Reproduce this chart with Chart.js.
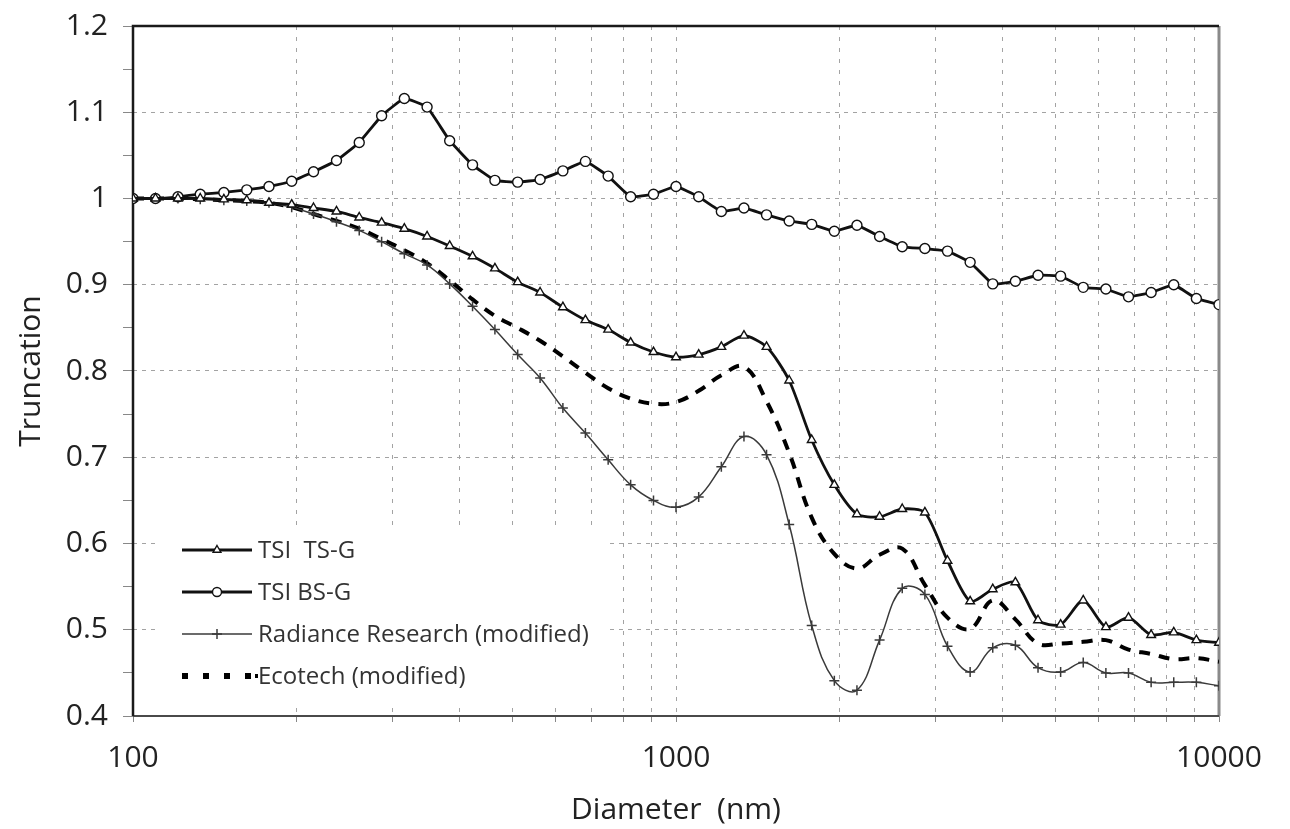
<!DOCTYPE html>
<html>
<head>
<meta charset="utf-8">
<script src="https://cdn.jsdelivr.net/npm/chart.js@4.4.1/dist/chart.umd.min.js"></script>
<style>
  html, body { margin: 0; padding: 0; background: #fff; }
  #wrap { width: 1290px; height: 829px; position: relative; }
</style>
</head>
<body>
<div id="wrap"><canvas id="truncChart"></canvas></div>
<script>
// diameters (nm), 24 points per decade
const diameters = [
  100, 110, 121, 133, 147, 162, 178, 196, 215, 237, 261, 287,
  316, 348, 383, 422, 464, 511, 562, 619, 681, 750, 825, 909,
  1000, 1101, 1212, 1334, 1468, 1616, 1778, 1957, 2154, 2371, 2610, 2873,
  3162, 3481, 3831, 4217, 4642, 5109, 5623, 6190, 6813, 7499, 8254, 9085, 10000
];

const tsiTsG = [
  1.000, 1.000, 1.000, 1.000, 0.999, 0.998, 0.995, 0.993, 0.989, 0.985, 0.978, 0.972,
  0.965, 0.956, 0.945, 0.933, 0.919, 0.903, 0.891, 0.874, 0.859, 0.848, 0.833, 0.822,
  0.816, 0.819, 0.828, 0.841, 0.828, 0.789, 0.720, 0.668, 0.634, 0.631, 0.640, 0.636,
  0.580, 0.533, 0.547, 0.555, 0.511, 0.506, 0.534, 0.503, 0.514, 0.494, 0.497, 0.488, 0.485
];

const tsiBsG = [
  1.000, 1.000, 1.002, 1.005, 1.007, 1.010, 1.014, 1.020, 1.031, 1.044, 1.065, 1.096,
  1.116, 1.106, 1.067, 1.039, 1.021, 1.019, 1.022, 1.032, 1.043, 1.026, 1.002, 1.005,
  1.014, 1.002, 0.985, 0.989, 0.981, 0.974, 0.970, 0.962, 0.969, 0.956, 0.944, 0.942,
  0.939, 0.926, 0.901, 0.904, 0.911, 0.910, 0.897, 0.895, 0.886, 0.891, 0.900, 0.884, 0.877
];

const radiance = [
  1.000, 1.000, 1.000, 0.999, 0.998, 0.997, 0.995, 0.990, 0.982, 0.973, 0.963, 0.950,
  0.936, 0.923, 0.901, 0.875, 0.848, 0.819, 0.792, 0.757, 0.728, 0.697, 0.668, 0.650,
  0.642, 0.654, 0.689, 0.724, 0.703, 0.622, 0.505, 0.441, 0.430, 0.488, 0.548, 0.541,
  0.481, 0.451, 0.479, 0.482, 0.456, 0.451, 0.462, 0.450, 0.450, 0.439, 0.439, 0.439, 0.435
];

const ecotech = [
  1.000, 1.000, 1.000, 0.999, 0.998, 0.997, 0.995, 0.990, 0.982, 0.974, 0.965, 0.953,
  0.940, 0.925, 0.905, 0.883, 0.864, 0.850, 0.835, 0.817, 0.798, 0.780, 0.768, 0.762,
  0.764, 0.777, 0.795, 0.805, 0.765, 0.705, 0.630, 0.588, 0.571, 0.587, 0.594, 0.552,
  0.514, 0.501, 0.534, 0.512, 0.484, 0.484, 0.486, 0.488, 0.477, 0.472, 0.466, 0.467, 0.463
];

const seriesNames = ['TSI  TS-G', 'TSI BS-G', 'Radiance Research (modified)', 'Ecotech (modified)'];

const xTickValues = [
  100, 200, 300, 400, 500, 600, 700, 800, 900,
  1000, 2000, 3000, 4000, 5000, 6000, 7000, 8000, 9000, 10000
];
const xLabelValues = [100, 1000, 10000];
const yTickValues = [0.4, 0.45, 0.5, 0.55, 0.6, 0.65, 0.7, 0.75, 0.8, 0.85, 0.9, 0.95, 1.0, 1.05, 1.1, 1.15, 1.2];
const yLabelValues = [0.4, 0.5, 0.6, 0.7, 0.8, 0.9, 1.0, 1.1, 1.2];

const FONT = "'Open Sans', 'Noto Sans', sans-serif";
const toPoints = ys => diameters.map((d, i) => ({ x: d, y: ys[i] }));
const isLabelY = v => yLabelValues.some(l => Math.abs(l - v) < 1e-6);

// box round the plot + legend with white background
const frameAndLegend = {
    id: 'frameAndLegend',
    beforeDatasetsDraw(chart) {
        const { ctx, chartArea: a } = chart;
        ctx.save();
        ctx.setLineDash([]);

        ctx.strokeStyle = '#8a8a8a';
        ctx.lineWidth = 3;
        ctx.beginPath();
        ctx.moveTo(a.right, a.top);
        ctx.lineTo(a.right, a.bottom);
        ctx.stroke();

        ctx.strokeStyle = '#4a4a4a';
        ctx.lineWidth = 2;
        ctx.beginPath();
        ctx.moveTo(a.left, a.bottom);
        ctx.lineTo(a.right, a.bottom);
        ctx.stroke();

        ctx.strokeStyle = '#1a1a1a';
        ctx.lineWidth = 2.5;
        ctx.beginPath();
        ctx.moveTo(a.left, a.bottom);
        ctx.lineTo(a.left, a.top);
        ctx.lineTo(a.right, a.top);
        ctx.stroke();

        // legend
        const bx = a.left + 27, by = a.top + 501;
        ctx.fillStyle = '#fff';
        ctx.fillRect(bx, by, 450, 176);

        chart.data.datasets.forEach((ds, i) => {
            const y = a.top + 524 + i * 42;
            const x1 = a.left + 49, x2 = a.left + 119, xm = (x1 + x2) / 2;
            ctx.strokeStyle = ds.borderColor;
            if (ds.borderDash) {
                ctx.lineWidth = 6;
                ctx.lineCap = 'butt';
                ctx.setLineDash([6, 15]);
                ctx.beginPath();
                ctx.moveTo(x1, y);
                ctx.lineTo(x2, y);
                ctx.stroke();
                ctx.setLineDash([]);
                ctx.fillStyle = ds.borderColor;
                ctx.fillRect(x2 + 3, y - 2, 3, 4);
            } else {
                ctx.lineWidth = ds.borderWidth;
                ctx.beginPath();
                ctx.moveTo(x1, y);
                ctx.lineTo(x2, y);
                ctx.stroke();
                if (ds.pointRadius > 0) {
                    ctx.fillStyle = ds.pointBackgroundColor;
                    ctx.strokeStyle = ds.pointBorderColor;
                    ctx.lineWidth = ds.pointBorderWidth;
                    Chart.helpers.drawPoint(ctx, {
                        pointStyle: ds.pointStyle,
                        radius: ds.pointStyle === 'cross' ? 5 : 4.5,
                        borderWidth: ds.pointBorderWidth,
                        rotation: 0
                    }, xm, y);
                }
            }
            ctx.fillStyle = '#333';
            ctx.font = '24px ' + FONT;
            ctx.textAlign = 'left';
            ctx.textBaseline = 'middle';
            ctx.fillText(ds.label, a.left + 125, y + 1);
        });
        ctx.restore();
    }
};

const ctx = document.getElementById('truncChart');

new Chart(ctx, {
    type: 'line',
    data: {
        datasets: [
            {
                label: seriesNames[0],
                data: toPoints(tsiTsG),
                borderColor: '#111',
                borderWidth: 2.8,
                pointStyle: 'triangle',
                pointRadius: 5,
                pointBackgroundColor: '#fff',
                pointBorderColor: '#111',
                pointBorderWidth: 1.4,
                tension: 0.25
            },
            {
                label: seriesNames[1],
                data: toPoints(tsiBsG),
                borderColor: '#111',
                borderWidth: 2.8,
                pointStyle: 'circle',
                pointRadius: 5,
                pointBackgroundColor: '#fff',
                pointBorderColor: '#111',
                pointBorderWidth: 1.4,
                tension: 0.1
            },
            {
                label: seriesNames[2],
                data: toPoints(radiance),
                borderColor: '#3a3a3a',
                borderWidth: 1.5,
                pointStyle: 'cross',
                pointRadius: 5,
                pointBackgroundColor: '#3a3a3a',
                pointBorderColor: '#3a3a3a',
                pointBorderWidth: 1.5,
                tension: 0.4
            },
            {
                label: seriesNames[3],
                data: toPoints(ecotech),
                borderColor: '#000',
                borderWidth: 4,
                borderDash: [11, 9],
                pointRadius: 0,
                tension: 0.4
            }
        ]
    },
    options: {
        responsive: true,
        maintainAspectRatio: false,
        animation: false,
        layout: { padding: { top: 26, right: 71, left: 0, bottom: 0 } },
        plugins: {
            legend: { display: false },
            tooltip: { enabled: false }
        },
        scales: {
            x: {
                type: 'logarithmic',
                min: 100,
                max: 10000,
                afterBuildTicks: scale => { scale.ticks = xTickValues.map(v => ({ value: v })); },
                afterFit: scale => { scale.height = 113; },
                ticks: {
                    autoSkip: false,
                    maxRotation: 0,
                    padding: 18,
                    color: '#222',
                    font: { family: FONT, size: 30 },
                    callback: v => xLabelValues.includes(v) ? String(v) : ''
                },
                grid: { color: '#a3a3a3', lineWidth: 1, tickColor: '#888', tickLength: 6 },
                border: { display: false, dash: [4, 7] },
                title: {
                    display: true,
                    text: 'Diameter  (nm)',
                    color: '#222',
                    font: { family: FONT, size: 30 },
                    padding: { top: 0, bottom: 1 }
                }
            },
            y: {
                type: 'linear',
                min: 0.4,
                max: 1.2,
                afterBuildTicks: scale => { scale.ticks = yTickValues.map(v => ({ value: v })); },
                afterFit: scale => {
                    scale.width = 133;
                    scale.paddingTop = 0;
                    scale.paddingBottom = 0;
                },
                ticks: {
                    autoSkip: false,
                    padding: 15,
                    color: '#222',
                    font: { family: FONT, size: 30 },
                    callback: v => isLabelY(v) ? String(+v.toFixed(1)) : ''
                },
                grid: {
                    color: c => isLabelY(c.tick.value) ? '#a3a3a3' : 'rgba(0,0,0,0)',
                    lineWidth: 1,
                    tickColor: '#888',
                    tickLength: 10
                },
                border: { display: false, dash: [4, 5] },
                title: {
                    display: true,
                    text: 'Truncation',
                    color: '#222',
                    font: { family: FONT, size: 30 },
                    padding: { top: 13, bottom: 0 }
                }
            }
        }
    },
    plugins: [frameAndLegend]
});
</script>
</body>
</html>
